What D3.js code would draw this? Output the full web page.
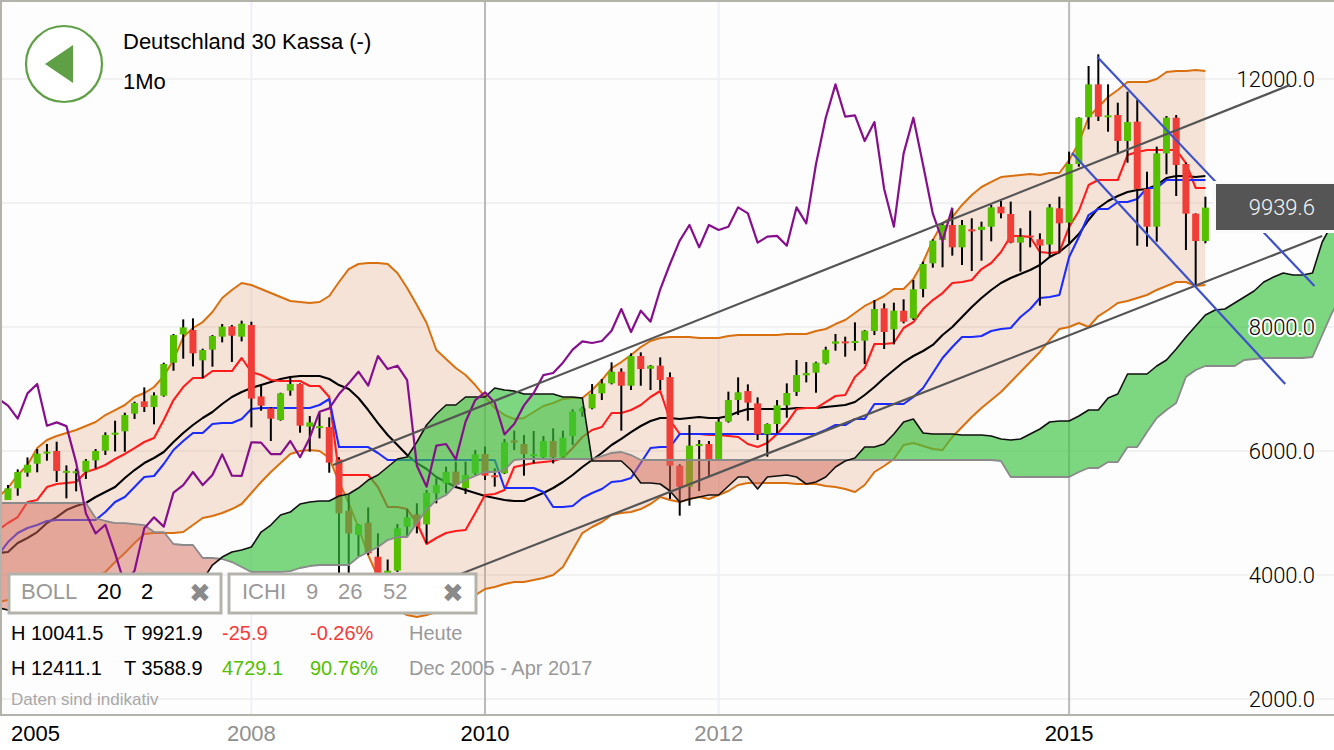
<!DOCTYPE html>
<html>
<head>
<meta charset="utf-8">
<script src="https://cdn.jsdelivr.net/npm/d3@7"></script>
<style>
html, body { margin: 0; padding: 0; background: #fff; overflow: hidden; }
svg { display: block; font-family: "Liberation Sans", Arial, sans-serif; }
.halo { paint-order: stroke; stroke: #fdfdfd; stroke-width: 4px; stroke-linejoin: round; }
</style>
</head>
<body>
<svg width="1334" height="750"></svg>
<script>
// monthly candles, first one is Dec 2005 (month 0)
const opens = [
  5209,5397,5650,5795,5985,6000,5677,5672,5666,5849,
  6005,6263,6317,6602,6801,6709,6892,7424,7881,7951,
  7462,7634,7844,8010,7844,8032,6881,6688,6500,6973,
  7080,6392,6398,6387,5865,5037,4645,4844,4295,3830,
  4070,4780,4978,4817,5317,5478,5666,5400,5639,5951,
  5608,5640,6170,6113,5946,5900,6161,5908,6240,6634,
  6688,6930,7091,7279,7053,7532,7327,7376,7193,5763,
  5424,6086,6113,5865,6473,6822,6967,6768,6268,6435,
  6736,6951,7220,7263,7413,7731,7768,7742,7779,7935,
  8301,7962,8263,8140,8613,9027,9403,9645,9285,9575,
  9565,9618,9941,9823,9360,9475,9414,9330,9914,9683,
  10629,11382,11914,11392,11420,11000,11312,10226,9618,10801,
  11376,10629,9828,9387];
const closes = [
  5398,5661,5779,5957,5990,5677,5680,5675,5844,6000,
  6258,6295,6580,6774,6709,6897,7403,7870,7994,7575,
  7629,7854,8005,7860,8053,6844,6731,6521,6930,7080,
  6408,6462,6401,5812,4994,4670,4810,4349,3843,4070,
  4753,4930,4780,5328,5451,5661,5451,5613,5946,5602,
  5598,6140,6135,5951,5950,6161,5900,6215,6634,6688,
  6919,7091,7279,7053,7532,7322,7376,7145,5763,5424,
  6086,6113,5865,6473,6822,6946,6779,6268,6435,6736,
  6935,7225,7258,7424,7634,7768,7742,7774,7940,8290,
  7919,8263,8086,8608,9016,9393,9645,9285,9645,9565,
  9618,9930,9833,9360,9457,9470,9312,9930,9672,10629,
  11376,11914,11392,11414,11000,11306,10226,9618,10801,11376,
  10613,9828,9387,9925];
const highs = [
  5451,5704,5897,6032,6113,6150,5768,5715,5871,6032,
  6301,6489,6618,6795,7026,6946,7424,7887,8123,8139,
  7650,7870,8048,8032,8102,8085,7048,6704,6940,7209,
  7091,6564,6618,6543,5900,5290,4820,5090,4672,4250,
  4822,5059,5156,5371,5559,5747,5828,5828,6016,6070,
  5720,6193,6328,6258,6322,6242,6365,6328,6672,6715,
  7080,7161,7430,7333,7575,7591,7387,7510,7268,5785,
  6419,6177,6161,6543,6957,7188,7075,6865,6446,6822,
  7091,7467,7435,7440,7682,7887,7844,8075,7951,8435,
  8381,8392,8446,8758,9054,9414,9672,9914,9726,9753,
  9699,9968,10032,10022,9592,9876,9511,9984,10102,10828,
  11382,12210,12398,11914,11618,11796,11661,10505,10909,11403,
  11419,10651,9833,10102];
const lows = [
  5209,5279,5586,5656,5844,5500,5236,5349,5548,5720,
  5935,5993,5988,6516,6629,6430,6876,7295,7489,7365,
  7177,7360,7752,7435,7768,6381,6650,6161,6489,6892,
  6295,5989,6204,5650,4014,3980,4300,4322,3730,3590,
  4050,4618,4672,4510,5156,5317,5400,5306,5613,5532,
  5425,5629,6016,5602,5800,5881,5800,5897,6096,6553,
  6672,6822,7075,6328,6984,7053,6984,6984,5226,4957,
  5118,5354,5586,5855,6457,6580,6489,6177,5908,6285,
  6537,6887,7107,6940,7397,7618,7521,7618,7403,7870,
  7645,7720,8059,8113,8479,8957,8963,9151,9000,8903,
  9070,9382,9753,9350,8893,9285,8344,9135,9188,9350,
  10586,11188,11323,11150,10800,10650,9312,9296,9376,10463,
  10113,9242,8661,9350];

// the indicator lines start one month before the first candle
const lineStart = -1;
const bollUpper = [
  5258,5403,5613,5774,6048,6177,6242,6290,6339,6403,
  6468,6580,6661,6742,6871,6935,7032,7209,7468,7838,
  7984,8080,8242,8468,8597,8710,8677,8613,8548,8484,
  8419,8403,8387,8403,8500,8726,8935,9016,9032,9032,
  9016,8871,8629,8355,8064,7629,7484,7338,7226,7064,
  6871,6693,6580,6516,6532,6629,6726,6774,6839,6855,
  6855,6984,7145,7338,7435,7548,7677,7774,7822,7838,
  7838,7838,7822,7822,7822,7855,7871,7871,7871,7871,
  7871,7887,7887,7887,7935,7968,8048,8113,8226,8339,
  8419,8500,8613,8613,8774,9048,9403,9677,9774,9968,
  10129,10258,10339,10419,10435,10452,10468,10452,10484,10484,
  10693,10968,11387,11548,11710,11822,11951,11951,11951,12000,
  12113,12129,12129,12145,12129];
const bollLower = [
  3564,3597,3597,3597,3629,3677,3726,3758,3839,3919,
  3968,4048,4210,4355,4516,4661,4677,4677,4677,4693,
  4806,4919,4952,5000,5064,5145,5322,5500,5661,5806,
  5952,6000,6016,6000,5887,5500,5161,4758,4322,3968,
  3645,3435,3355,3322,3355,3403,3435,3516,3597,3677,
  3774,3806,3855,3887,3887,3919,3951,4000,4129,4403,
  4677,4774,4855,4968,5000,5016,5064,5145,5258,5210,
  5177,5226,5258,5226,5290,5355,5452,5484,5484,5484,
  5484,5484,5468,5468,5468,5435,5419,5387,5339,5452,
  5661,5758,5871,6097,6129,6081,6032,6016,6226,6387,
  6548,6693,6822,6951,7113,7274,7435,7597,7790,7968,
  8000,8064,8000,8177,8274,8387,8419,8468,8516,8597,
  8661,8726,8726,8661,8677];
const bollMid = [
  4355,4371,4516,4597,4693,4839,4935,5048,5113,5161,
  5258,5339,5419,5564,5693,5806,5887,5984,6145,6290,
  6419,6532,6629,6758,6871,6951,7016,7064,7113,7161,
  7193,7210,7210,7210,7161,7064,7000,6855,6661,6451,
  6258,6097,5935,5806,5710,5581,5500,5419,5371,5322,
  5274,5242,5210,5193,5193,5258,5322,5403,5500,5613,
  5742,5855,5968,6097,6194,6306,6403,6484,6532,6532,
  6516,6532,6548,6532,6532,6565,6629,6677,6677,6677,
  6677,6677,6693,6693,6693,6710,6726,6742,6790,6903,
  7032,7177,7306,7435,7532,7613,7710,7871,8000,8161,
  8322,8468,8597,8710,8790,8855,8919,9000,9129,9210,
  9339,9500,9726,9919,10032,10113,10177,10210,10226,10290,
  10403,10435,10435,10419,10435];
const tenkan = [
  4726,4839,4935,5177,5210,5419,5468,5484,5500,5661,
  5710,5774,5871,5952,6048,6145,6210,6500,6822,7032,
  7177,7177,7290,7290,7290,7500,7274,7226,7145,7129,
  7129,7129,7048,7048,6871,5613,5613,5613,5613,5419,
  5097,5097,5064,4839,4500,4597,4677,4710,4726,5000,
  5290,5306,5371,5742,5774,5806,5823,5839,5887,6048,
  6226,6339,6387,6613,6613,6661,6742,6871,6968,6500,
  6274,6274,6274,6258,6258,6242,6226,6113,6064,6129,
  6274,6451,6677,6693,6693,6790,6887,6903,7193,7338,
  7726,7726,7742,7984,8080,8290,8435,8548,8710,8726,
  8758,8935,9032,9210,9468,9468,9452,9210,9193,9210,
  9613,9871,10290,10371,10371,10371,10774,10822,10855,10855,
  10855,10855,10645,10242,10242];
const kijun = [
  4322,4532,4677,4758,4806,4871,4887,4887,4887,4887,
  4887,5016,5177,5258,5419,5581,5597,5790,6016,6161,
  6290,6290,6435,6451,6451,6516,6677,6693,6693,6693,
  6693,6693,6693,6742,6839,6064,6064,6064,6064,5968,
  5855,5855,5855,5855,5855,5855,5855,5855,5855,5855,
  5855,5855,5403,5403,5403,5403,5339,5097,5097,5113,
  5242,5322,5387,5500,5516,5564,5806,6048,6064,6064,
  6274,6274,6274,6274,6274,6274,6274,6274,6274,6274,
  6274,6274,6274,6274,6274,6339,6419,6419,6516,6516,
  6758,6758,6758,6758,6871,7016,7258,7500,7677,7839,
  7839,7855,7935,7968,7984,8161,8290,8468,8484,8516,
  9129,9452,9806,9903,9903,10016,10016,10064,10242,10242,
  10371,10371,10371,10371,10371];
const chikou = [
  6844,6731,6521,6930,7080,6408,6462,6401,5812,4994,
  4670,4810,4349,3843,4070,4753,4930,4780,5328,5451,
  5661,5451,5613,5946,5602,5598,6140,6135,5951,5950,
  6161,5900,6215,6634,6688,6919,7091,7279,7053,7532,
  7322,7376,7145,5763,5424,6086,6113,5865,6473,6822,
  6946,6779,6268,6435,6736,6935,7225,7258,7424,7634,
  7768,7742,7774,7940,8290,7919,8263,8086,8608,9016,
  9393,9645,9285,9645,9565,9618,9930,9833,9360,9457,
  9470,9312,9930,9672,10629,11376,11914,11392,11414,11000,
  11306,10226,9618,10801,11376,10613,9828,9387,9925];
const senkouA = [
  3470,3435,3435,3435,3435,3435,3435,3435,3435,3435,
  3435,3435,3435,3435,3435,3435,3435,3435,3435,3468,
  3677,3919,4161,4290,4371,4403,4451,4693,4806,4968,
  5016,5145,5177,5193,5193,5274,5306,5403,5532,5613,
  5742,5871,5903,6145,6419,6597,6742,6742,6871,6871,
  6871,7016,6984,6968,6919,6919,6919,6919,6871,6871,
  6855,5839,5839,5839,5839,5693,5484,5484,5468,5355,
  5177,5226,5258,5290,5290,5435,5581,5581,5387,5581,
  5597,5613,5581,5468,5500,5581,5742,5839,5887,6064,
  6064,6113,6274,6468,6516,6290,6274,6274,6274,6258,
  6258,6258,6242,6193,6177,6193,6274,6355,6468,6484,
  6484,6564,6661,6661,6855,6919,7242,7242,7242,7371,
  7468,7645,7839,8016,8193,8274,8290,8387,8484,8581,
  8726,8806,8871,8839,8839,8871,9371,9661,10048];
const senkouB = [
  5161,5161,5161,5161,5161,5161,5161,5161,5161,5161,
  4919,4871,4838,4838,4822,4806,4693,4693,4500,4484,
  4484,4274,4274,4258,4209,4129,4048,4048,4048,4048,
  4064,4113,4145,4161,4161,4161,4161,4290,4371,4451,
  4564,4613,4613,4838,5048,5210,5290,5452,5532,5597,
  5661,5661,5693,5855,5871,5871,5871,5871,5871,5871,
  5871,5871,5919,5968,5984,5935,5855,5855,5855,5855,
  5855,5855,5855,5855,5855,5855,5855,5855,5855,5855,
  5855,5855,5855,5855,5855,5855,5855,5855,5855,5855,
  5855,5855,5855,5855,5855,5855,5855,5855,5855,5855,
  5855,5855,5855,5839,5581,5581,5581,5581,5581,5581,
  5581,5661,5726,5726,5822,5822,6064,6064,6306,6532,
  6661,6774,7193,7306,7371,7371,7371,7371,7468,7484,
  7500,7500,7500,7500,7500,7516,7871,8226,8516];

// [month, value] ends of the drawn trend lines
const channelUpper = [[33.4, 5774], [131.7, 11903]];
const channelLower = [[44.4, 3887], [135, 9468]];
const fallUpper = [[111.9, 12355], [134.2, 8661]];
const fallLower = [[109.3, 10806], [131.2, 7080]];

const priceTicks = [2000, 4000, 6000, 8000, 10000, 12000];
const priceLabels = ['2000.0', '4000.0', '6000.0', '8000.0', '12000.0'];
const labelTicks = [2000, 4000, 6000, 8000, 12000];
const yearTicks = [25, 49, 73, 109];
const yearLabels = ['2008', '2010', '2012', '2015'];
const lastPrice = '9939.6';

const svg = d3.select('svg');
const x = d3.scaleLinear().domain([0, 100]).range([8, 981.5]);
const y = d3.scaleLinear().domain([2000, 12000]).range([699, 79]);

svg.append('rect').attr('width', 1334).attr('height', 750).attr('fill', '#fff');
svg.append('rect').attr('x', 2).attr('y', 2).attr('width', 1332).attr('height', 712).attr('fill', '#fdfdfd');
svg.append('clipPath').attr('id', 'plot').append('rect')
  .attr('x', 2).attr('y', 2).attr('width', 1332).attr('height', 712);

const g = svg.append('g').attr('clip-path', 'url(#plot)');

g.selectAll('.hgrid').data(priceTicks).join('line')
  .attr('x1', 2).attr('x2', 1334)
  .attr('y1', d => y(d)).attr('y2', d => y(d))
  .attr('stroke', '#f1f1f1').attr('stroke-width', 2);

g.selectAll('.vgrid').data(yearTicks).join('line')
  .attr('x1', d => x(d)).attr('x2', d => x(d))
  .attr('y1', 2).attr('y2', 714)
  .attr('stroke', (d, i) => i % 2 ? '#bbbbbb' : '#eef0f8').attr('stroke-width', 2);

const months = d3.range(bollUpper.length);
const lineFor = (values, start) => d3.line()
  .x((d, i) => x(i + start))
  .y(d => y(d))(values);

g.append('path')
  .attr('d', d3.area()
    .x(d => x(d + lineStart))
    .y0(d => y(bollLower[d]))
    .y1(d => y(bollUpper[d]))(months))
  .attr('fill', 'rgba(224,152,108,0.25)');

const drawLine = (values, start, color, width) => g.append('path')
  .attr('d', lineFor(values, start))
  .attr('fill', 'none')
  .attr('stroke', color)
  .attr('stroke-width', width)
  .attr('stroke-linejoin', 'round');

drawLine(bollUpper, lineStart, '#d9700f', 2);
drawLine(bollLower, lineStart, '#d9700f', 2);
drawLine(bollMid, lineStart, '#000', 2.1);
drawLine(tenkan, lineStart, '#ff1c1c', 2.1);
drawLine(kijun, lineStart, '#1c2cff', 2.1);

// candles
const candles = g.selectAll('.candle').data(opens).join('g');
candles.append('line')
  .attr('x1', (d, i) => x(i)).attr('x2', (d, i) => x(i))
  .attr('y1', (d, i) => y(highs[i])).attr('y2', (d, i) => y(lows[i]))
  .attr('stroke', '#000').attr('stroke-width', 2);
candles.append('rect')
  .attr('x', (d, i) => x(i) - 3.5)
  .attr('width', 7)
  .attr('y', (d, i) => y(Math.max(opens[i], closes[i])))
  .attr('height', (d, i) => Math.max(2, Math.abs(y(opens[i]) - y(closes[i]))))
  .attr('fill', (d, i) => closes[i] >= opens[i] ? '#55c000' : '#ef3e38');

// cloud goes over the candles
const cloudMonths = d3.range(senkouA.length);
g.append('path')
  .attr('d', d3.area()
    .x(d => x(d + lineStart))
    .y0(d => y(senkouA[d]))
    .y1(d => y(Math.min(senkouA[d], senkouB[d])))(cloudMonths))
  .attr('fill', 'rgba(57,194,61,0.65)');
g.append('path')
  .attr('d', d3.area()
    .x(d => x(d + lineStart))
    .y0(d => y(senkouB[d]))
    .y1(d => y(Math.min(senkouA[d], senkouB[d])))(cloudMonths))
  .attr('fill', 'rgba(211,105,89,0.5)');
drawLine(senkouB, lineStart, '#8a8a8a', 1.8);
drawLine(senkouA, lineStart, '#111', 1.6);
drawLine(chikou, lineStart, '#86108c', 2.2);

// price labels sit under the trend lines
const labels = svg.append('g');
labels.selectAll('text').data(labelTicks).join('text')
  .attr('class', 'halo')
  .attr('x', 1315)
  .attr('y', d => y(d) + 8)
  .attr('text-anchor', 'end')
  .attr('font-family', 'Roboto')
  .attr('font-weight', 300)
  .attr('font-size', 22)
  .attr('fill', '#000')
  .text((d, i) => priceLabels[i]);

const trend = [[channelUpper, '#555'], [channelLower, '#555'], [fallUpper, '#3d51c9'], [fallLower, '#3d51c9']];
svg.selectAll('.trend').data(trend).join('line')
  .attr('x1', d => x(d[0][0][0])).attr('y1', d => y(d[0][0][1]))
  .attr('x2', d => x(d[0][1][0])).attr('y2', d => y(d[0][1][1]))
  .attr('stroke', d => d[1]).attr('stroke-width', 2.2);

svg.append('rect')
  .attr('x', 1213).attr('y', 181).attr('width', 124).attr('height', 52)
  .attr('fill', '#fafafa');
svg.append('rect')
  .attr('x', 1216).attr('y', 184).attr('width', 118).attr('height', 46)
  .attr('fill', '#555');
svg.append('text')
  .attr('x', 1315).attr('y', 215).attr('text-anchor', 'end')
  .attr('font-family', 'Roboto').attr('font-weight', 300)
  .attr('font-size', 22).attr('fill', '#f4f4f4').text(lastPrice);

// frame and year strip
svg.append('rect').attr('x', 0).attr('y', 716).attr('width', 1334).attr('height', 34).attr('fill', '#fff');
svg.append('rect').attr('x', 0).attr('y', 0).attr('width', 1334).attr('height', 2).attr('fill', '#b3b3ab');
svg.append('rect').attr('x', 0).attr('y', 0).attr('width', 2).attr('height', 716).attr('fill', '#b3b3ab');
svg.append('rect').attr('x', 0).attr('y', 714).attr('width', 1334).attr('height', 2).attr('fill', '#b3b3ab');

svg.append('text').attr('x', 11).attr('y', 741).attr('font-size', 22).attr('fill', '#000').text('2005');
svg.selectAll('.year').data(yearTicks).join('text')
  .attr('x', d => x(d)).attr('y', 741)
  .attr('text-anchor', 'middle').attr('font-size', 22)
  .attr('fill', (d, i) => i % 2 ? '#000' : '#8f8f8f')
  .text((d, i) => yearLabels[i]);

// title and back button
svg.append('circle').attr('cx', 64).attr('cy', 64).attr('r', 38)
  .attr('fill', '#fff').attr('stroke', '#5f9f45').attr('stroke-width', 2.2);
svg.append('path').attr('d', 'M45,64L73,45L73,83Z').attr('fill', '#5f9f45');
svg.append('text').attr('class', 'halo').attr('x', 123).attr('y', 49).attr('font-size', 22).attr('fill', '#000')
  .text('Deutschland 30 Kassa (-)');
svg.append('text').attr('class', 'halo').attr('x', 123).attr('y', 89).attr('font-size', 22).attr('fill', '#000')
  .text('1Mo');

// indicator boxes
const boxes = [[9, 212], [229, 247]];
svg.selectAll('.box').data(boxes).join('rect')
  .attr('x', d => d[0]).attr('y', 574).attr('width', d => d[1]).attr('height', 39)
  .attr('fill', '#fff').attr('stroke', '#b3b3ab').attr('stroke-width', 3);

const boxTexts = [
  ['BOLL', 21, '#999'], ['20', 97, '#000'], ['2', 141, '#000'],
  ['ICHI', 242, '#999'], ['9', 306, '#999'], ['26', 338, '#999'], ['52', 383, '#999']
];
svg.selectAll('.boxtext').data(boxTexts).join('text')
  .attr('x', d => d[1]).attr('y', 599).attr('font-size', 22).attr('fill', d => d[2])
  .text(d => d[0]);
svg.selectAll('.close').data([200, 453]).join('text')
  .attr('x', d => d).attr('y', 602).attr('text-anchor', 'middle')
  .attr('font-family', 'DejaVu Sans').attr('font-size', 26).attr('fill', '#8a8a8a')
  .text('\u2716');

const statTexts = [
  ['H 10041.5', 11, 640, '#000'], ['T 9921.9', 124, 640, '#000'], ['-25.9', 222, 640, '#f23b3b'],
  ['-0.26%', 310, 640, '#f23b3b'], ['Heute', 409, 640, '#999'],
  ['H 12411.1', 11, 675, '#000'], ['T 3588.9', 124, 675, '#000'], ['4729.1', 222, 675, '#55c000'],
  ['90.76%', 310, 675, '#55c000'], ['Dec 2005 - Apr 2017', 409, 675, '#999']
];
svg.selectAll('.stat').data(statTexts).join('text')
  .attr('x', d => d[1]).attr('y', d => d[2]).attr('font-size', 20).attr('fill', d => d[3])
  .text(d => d[0]);
svg.append('text').attr('x', 11).attr('y', 705).attr('font-size', 17).attr('fill', '#a8a8a8')
  .text('Daten sind indikativ');
</script>
</body>
</html>
